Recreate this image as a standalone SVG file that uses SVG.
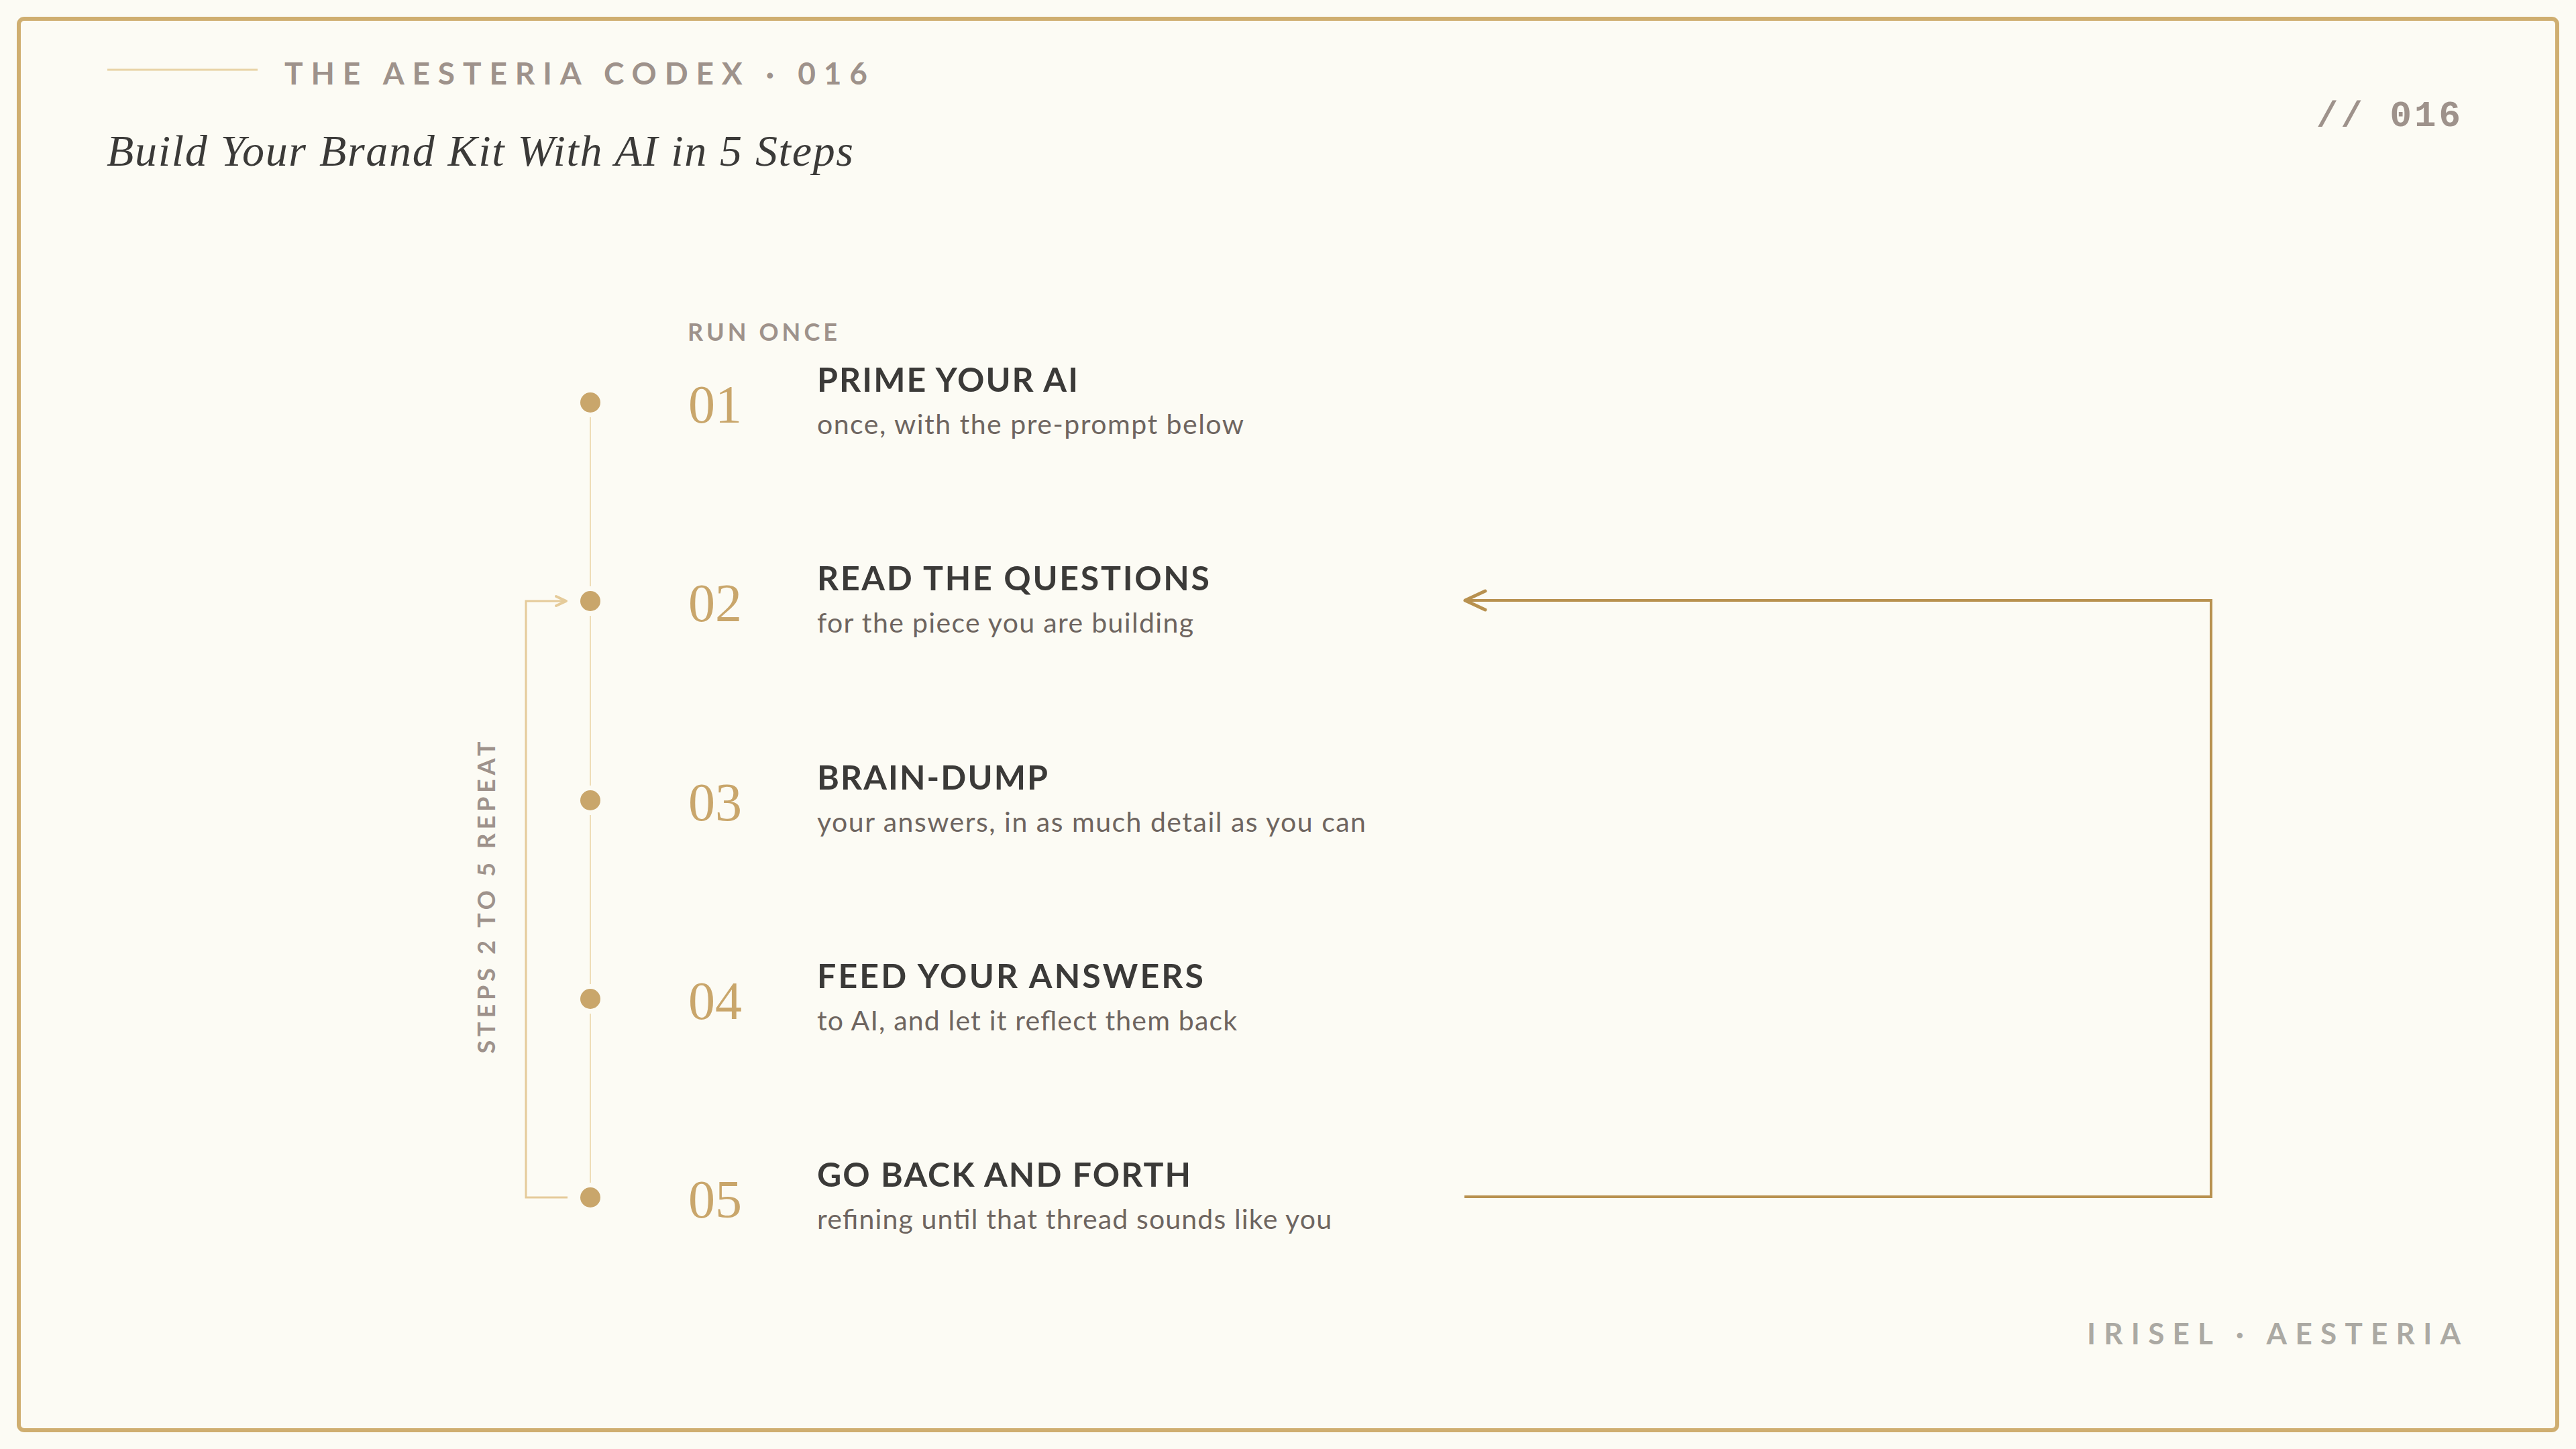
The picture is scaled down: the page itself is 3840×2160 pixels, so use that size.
<svg xmlns="http://www.w3.org/2000/svg" width="3840" height="2160" viewBox="0 0 3840 2160">
  <defs>
    <style>
      .kicker { font-family: Lato, "Open Sans", sans-serif; font-weight: 700; fill: #9E928B; }
      .title { font-family: "Liberation Serif", serif; font-style: italic; fill: #3B3A38; }
      .num { font-family: "Liberation Serif", serif; fill: #C9A66B; font-size: 80px; }
      .head { font-family: Lato, "Open Sans", sans-serif; font-weight: 700; fill: #3B3A38; font-size: 50px; }
      .sub { font-family: Lato, "Open Sans", sans-serif; font-weight: 400; fill: #6E6560; font-size: 41px; }
      .dot { fill: #C9A66B; }
      .spine { stroke: #EEDDB7; stroke-width: 2; fill: none; }
      .loop { stroke: #B8914F; stroke-width: 4; fill: none; }
      .bracket { stroke: #E5CB9A; stroke-width: 3; fill: none; }
    </style>
    <marker id="loopHead" viewBox="0 0 40 40" refX="36" refY="20" markerWidth="40" markerHeight="40" markerUnits="userSpaceOnUse" orient="auto">
      <path d="M6 6 L36 20 L6 34" fill="none" stroke="#B8914F" stroke-width="5" stroke-linecap="round" stroke-linejoin="round"/>
    </marker>
    <marker id="bracketHead" viewBox="0 0 24 24" refX="20" refY="12" markerWidth="24" markerHeight="24" markerUnits="userSpaceOnUse" orient="auto">
      <path d="M5 5 L20 12 L5 19" fill="none" stroke="#E5CB9A" stroke-width="4" stroke-linecap="round" stroke-linejoin="round"/>
    </marker>
  </defs>

  <rect x="0" y="0" width="3840" height="2160" fill="#FCFBF4"/>
  <rect x="28" y="28" width="3784" height="2104" rx="8" fill="#FCFBF4" stroke="#CFAE70" stroke-width="6"/>

  <g id="header">
    <line x1="160" y1="104" x2="384" y2="104" stroke="#E8D3A6" stroke-width="3"/>
    <text class="kicker" x="424" y="126" font-size="46" textLength="869" lengthAdjust="spacing">THE AESTERIA CODEX · 016</text>
    <text class="title" x="159" y="247" font-size="66" textLength="1113" lengthAdjust="spacing">Build Your Brand Kit With AI in 5 Steps</text>
    <text x="3453" y="188" font-family="'Liberation Mono', 'DejaVu Sans Mono', monospace" font-weight="700" font-size="54" fill="#9E928B" textLength="215" lengthAdjust="spacing">// 016</text>
  </g>

  <g id="footer">
    <text x="3111" y="2004" font-family="Lato, 'Open Sans', sans-serif" font-weight="700" font-size="44" fill="#ABA9A3" textLength="557" lengthAdjust="spacing">IRISEL · AESTERIA</text>
  </g>

  <g id="connectors">
    <line class="spine" x1="880" y1="622" x2="880" y2="874"/>
    <line class="spine" x1="880" y1="918" x2="880" y2="1171"/>
    <line class="spine" x1="880" y1="1215" x2="880" y2="1467"/>
    <line class="spine" x1="880" y1="1511" x2="880" y2="1763"/>
    <path class="bracket" d="M846 1785 L784 1785 L784 896 L844 896" marker-end="url(#bracketHead)"/>
    <path class="loop" d="M2183 1784 L3296 1784 L3296 895 L2184 895" marker-end="url(#loopHead)"/>
  </g>

  <g id="repeat-label">
    <text class="kicker" transform="translate(738,1338) rotate(-90)" x="0" y="0" font-size="36" text-anchor="middle" textLength="465" lengthAdjust="spacing">STEPS 2 TO 5 REPEAT</text>
  </g>

  <g id="run-once-label">
    <text class="kicker" x="1025" y="508" font-size="36" textLength="223" lengthAdjust="spacing">RUN ONCE</text>
  </g>

  <g id="step-01">
    <circle class="dot" cx="880" cy="600" r="15"/>
    <text class="num" x="1026" y="630">01</text>
    <text class="head" x="1218" y="584" textLength="389" lengthAdjust="spacing">PRIME YOUR AI</text>
    <text class="sub" x="1218" y="647" textLength="636" lengthAdjust="spacing">once, with the pre-prompt below</text>
  </g>

  <g id="step-02">
    <circle class="dot" cx="880" cy="896" r="15"/>
    <text class="num" x="1026" y="926">02</text>
    <text class="head" x="1218" y="880" textLength="585" lengthAdjust="spacing">READ THE QUESTIONS</text>
    <text class="sub" x="1218" y="943" textLength="561" lengthAdjust="spacing">for the piece you are building</text>
  </g>

  <g id="step-03">
    <circle class="dot" cx="880" cy="1193" r="15"/>
    <text class="num" x="1026" y="1223">03</text>
    <text class="head" x="1218" y="1177" textLength="344" lengthAdjust="spacing">BRAIN-DUMP</text>
    <text class="sub" x="1218" y="1240" textLength="818" lengthAdjust="spacing">your answers, in as much detail as you can</text>
  </g>

  <g id="step-04">
    <circle class="dot" cx="880" cy="1489" r="15"/>
    <text class="num" x="1026" y="1519">04</text>
    <text class="head" x="1218" y="1473" textLength="576" lengthAdjust="spacing">FEED YOUR ANSWERS</text>
    <text class="sub" x="1218" y="1536" textLength="626" lengthAdjust="spacing">to AI, and let it reflect them back</text>
  </g>

  <g id="step-05">
    <circle class="dot" cx="880" cy="1785" r="15"/>
    <text class="num" x="1026" y="1815">05</text>
    <text class="head" x="1218" y="1769" textLength="557" lengthAdjust="spacing">GO BACK AND FORTH</text>
    <text class="sub" x="1218" y="1832" textLength="767" lengthAdjust="spacing">refining until that thread sounds like you</text>
  </g>
</svg>
